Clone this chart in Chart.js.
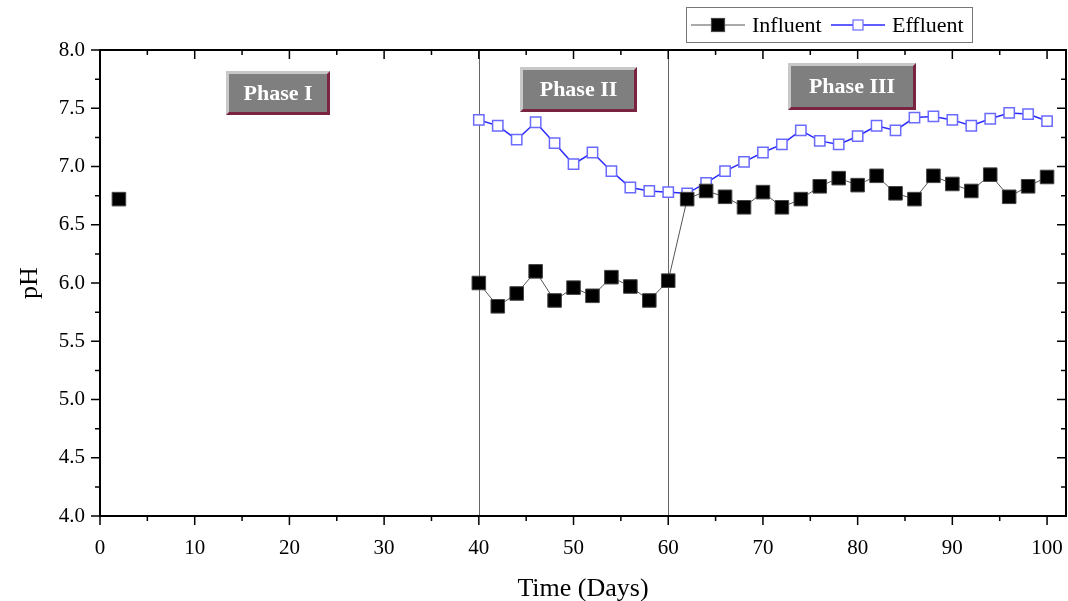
<!DOCTYPE html>
<html>
<head>
<meta charset="utf-8">
<script src="https://cdn.jsdelivr.net/npm/chart.js@4.4.1/dist/chart.umd.min.js"></script>
<style>
  html, body { margin: 0; padding: 0; background: #fff; overflow: hidden; }
  #wrap { position: relative; width: 1068px; height: 601px; }
  #chart { display: block; }
</style>
</head>
<body>
<div id="wrap"><canvas id="chart"></canvas></div>
<script>
// values
const influentDays = [2, 40, 42, 44, 46, 48, 50, 52, 54, 56, 58, 60, 62, 64, 66, 68, 70, 72, 74, 76, 78, 80, 82, 84, 86, 88, 90, 92, 94, 96, 98, 100];
const influentPH = [6.72, 6.00, 5.80, 5.91, 6.10, 5.85, 5.96, 5.89, 6.05, 5.97, 5.85, 6.02, 6.72, 6.79, 6.74, 6.65, 6.78, 6.65, 6.72, 6.83, 6.90, 6.84, 6.92, 6.77, 6.72, 6.92, 6.85, 6.79, 6.93, 6.74, 6.83, 6.91];
const effluentDays = [40, 42, 44, 46, 48, 50, 52, 54, 56, 58, 60, 62, 64, 66, 68, 70, 72, 74, 76, 78, 80, 82, 84, 86, 88, 90, 92, 94, 96, 98, 100];
const effluentPH = [7.40, 7.35, 7.23, 7.38, 7.20, 7.02, 7.12, 6.96, 6.82, 6.79, 6.78, 6.77, 6.86, 6.96, 7.04, 7.12, 7.19, 7.31, 7.22, 7.19, 7.26, 7.35, 7.31, 7.42, 7.43, 7.40, 7.35, 7.41, 7.46, 7.45, 7.39];
const phaseLabels = ["Phase I", "Phase II", "Phase III"];
const phaseBounds = [40, 60];
const xTicks = [0, 10, 20, 30, 40, 50, 60, 70, 80, 90, 100];

const FONT = "'Liberation Serif', 'Times New Roman', serif";

const toPoints = (xs, ys) => xs.map((x, i) => ({ x: x, y: ys[i] }));

// phase boxes: centre (in days), top, bottom and width in px
const phaseBoxes = [
  { c: 18.8, top: 71, bottom: 115, w: 104 },
  { c: 50.5, top: 67, bottom: 112, w: 117 },
  { c: 79.4, top: 63, bottom: 110, w: 128 },
];

// the layout keeps leaving ~15px on the right, so stretch the plot out to the frame edge
const stretchRight = {
  id: "stretchRight",
  afterLayout(chart) {
    const right = chart.width - 2;
    const a = chart.chartArea;
    a.right = right;
    a.width = right - a.left;
    const x = chart.scales.x;
    x.right = right;
    x.width = right - x.left;
    x.configure();
  },
};

const decorations = {
  id: "decorations",
  beforeDatasetsDraw(chart) {
    const { ctx, chartArea, scales } = chart;
    ctx.save();
    ctx.strokeStyle = "#666";
    ctx.lineWidth = 1;
    phaseBounds.forEach(d => {
      const px = Math.round(scales.x.getPixelForValue(d)) + 0.5;
      ctx.beginPath();
      ctx.moveTo(px, chartArea.top);
      ctx.lineTo(px, chartArea.bottom);
      ctx.stroke();
    });
    ctx.restore();
  },
  afterDatasetsDraw(chart) {
    const { ctx, scales } = chart;
    ctx.save();
    phaseBoxes.forEach((b, i) => {
      const cx = scales.x.getPixelForValue(b.c);
      const l = Math.round(cx - b.w / 2), r = l + b.w;
      const t = b.top, btm = b.bottom, bev = 3;
      // dark shadow bottom/right
      ctx.fillStyle = "#7b2440";
      ctx.fillRect(l, t, b.w, btm - t);
      // light bevel top/left
      ctx.fillStyle = "#c8c8c8";
      ctx.beginPath();
      ctx.moveTo(l, t); ctx.lineTo(r, t); ctx.lineTo(r - bev, t + bev);
      ctx.lineTo(l + bev, btm - bev); ctx.lineTo(l, btm); ctx.closePath();
      ctx.fill();
      ctx.fillStyle = "#7f7f7f";
      ctx.fillRect(l + bev, t + bev, b.w - 2 * bev, btm - t - 2 * bev);
      ctx.fillStyle = "#fff";
      ctx.font = "bold 22px " + FONT;
      ctx.textAlign = "center";
      ctx.textBaseline = "middle";
      ctx.fillText(phaseLabels[i], (l + r) / 2, (t + btm) / 2 + 1);
    });
    ctx.restore();
  },
  afterDraw(chart) {
    const { ctx, chartArea: a, scales } = chart;
    ctx.save();
    ctx.strokeStyle = "#000";
    ctx.lineWidth = 2;
    ctx.strokeRect(a.left, a.top, a.right - a.left, a.bottom - a.top);
    ctx.lineWidth = 1.5;
    ctx.beginPath();
    // x ticks: outward at bottom, inward at top
    for (let v = 0; v <= 100; v += 5) {
      const px = scales.x.getPixelForValue(v);
      const len = v % 10 === 0 ? 9 : 5;
      ctx.moveTo(px, a.bottom); ctx.lineTo(px, a.bottom + len);
      ctx.moveTo(px, a.top); ctx.lineTo(px, a.top + len);
    }
    // y ticks: outward at left, inward at right
    for (let v = 4; v <= 8.001; v += 0.25) {
      const py = scales.y.getPixelForValue(v);
      const len = Math.abs(v * 2 - Math.round(v * 2)) < 0.01 ? 9 : 5;
      ctx.moveTo(a.left, py); ctx.lineTo(a.left - len, py);
      ctx.moveTo(a.right, py); ctx.lineTo(a.right - len, py);
    }
    ctx.stroke();

    // legend
    const ds = chart.data.datasets;
    ctx.lineWidth = 1;
    ctx.strokeStyle = "#777";
    ctx.strokeRect(686.5, 7.5, 286, 35);
    ctx.font = "22px " + FONT;
    ctx.textBaseline = "middle";
    ctx.textAlign = "left";
    const cy = 25;
    const items = [
      { x: 691, ds: ds[0], side: 13 },
      { x: 831, ds: ds[1], side: 10 },
    ];
    items.forEach(it => {
      ctx.strokeStyle = it.ds.borderColor;
      ctx.lineWidth = it.ds.borderWidth;
      ctx.beginPath();
      ctx.moveTo(it.x, cy); ctx.lineTo(it.x + 54, cy);
      ctx.stroke();
      const sx = it.x + 27 - it.side / 2;
      ctx.fillStyle = it.ds.pointBackgroundColor;
      ctx.fillRect(sx, cy - it.side / 2, it.side, it.side);
      ctx.strokeStyle = it.ds.pointBorderColor;
      ctx.lineWidth = 1.2;
      ctx.strokeRect(sx, cy - it.side / 2, it.side, it.side);
      ctx.fillStyle = "#000";
      ctx.fillText(it.ds.label, it.x + 61, cy + 1);
    });
    ctx.restore();
  },
};

new Chart(document.getElementById("chart"), {
  type: "line",
  data: {
    datasets: [
      {
        label: "Influent",
        data: toPoints(influentDays, influentPH),
        borderColor: "#555",
        borderWidth: 1,
        pointStyle: "rect",
        pointRadius: 9.6,
        pointBackgroundColor: "#000",
        pointBorderColor: "#444",
        pointBorderWidth: 1,
        tension: 0,
        segment: {
          // no connecting line across the gap before day 40
          borderColor: c => (c.p0.parsed.x < phaseBounds[0] ? "rgba(0,0,0,0)" : "#555"),
        },
      },
      {
        label: "Effluent",
        data: toPoints(effluentDays, effluentPH),
        borderColor: "#2a2aff",
        borderWidth: 1.5,
        pointStyle: "rect",
        pointRadius: 7.3,
        pointBackgroundColor: "#fff",
        pointBorderColor: "#6a6aff",
        pointBorderWidth: 1.5,
        tension: 0,
      },
    ],
  },
  options: {
    responsive: true,
    maintainAspectRatio: false,
    animation: false,
    layout: { autoPadding: false, padding: { top: 50, right: 2, left: 0, bottom: -4 } },
    plugins: {
      legend: { display: false },
      tooltip: { enabled: false },
    },
    scales: {
      x: {
        type: "linear",
        min: 0,
        max: 102,
        afterFit: s => { s.height = 89; },
        afterBuildTicks: s => { s.ticks = xTicks.map(v => ({ value: v })); },
        grid: { display: false, drawTicks: false },
        border: { display: false },
        ticks: {
          autoSkip: false,
          maxRotation: 0,
          padding: 20,
          color: "#000",
          font: { family: FONT, size: 21 },
        },
        title: {
          display: true,
          text: "Time (Days)",
          color: "#000",
          font: { family: FONT, size: 26 },
          padding: { top: 0, bottom: 0 },
        },
      },
      y: {
        min: 4,
        max: 8,
        afterFit: s => { s.width = 100; },
        grid: { display: false, drawTicks: false },
        border: { display: false },
        ticks: {
          stepSize: 0.5,
          padding: 15,
          color: "#000",
          font: { family: FONT, size: 21 },
          callback: v => v.toFixed(1),
        },
        title: {
          display: true,
          text: "pH",
          color: "#000",
          font: { family: FONT, size: 26 },
          padding: { top: 15, bottom: 0 },
        },
      },
    },
  },
  plugins: [stretchRight, decorations],
});
</script>
</body>
</html>
